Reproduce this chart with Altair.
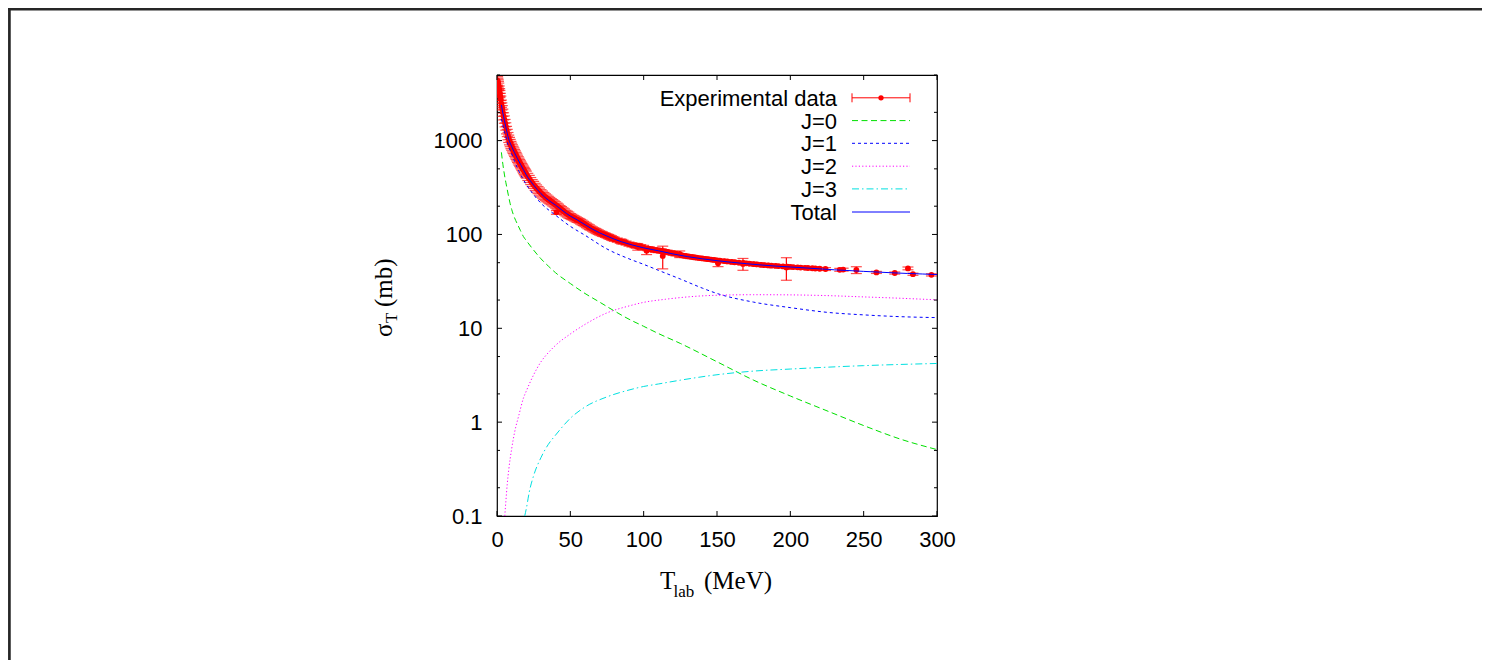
import altair as alt
import pandas as pd

# ---------------- data ----------------
# experimental points, low-energy part
exp_T_low = [0.4, 0.6, 0.8, 1.0, 1.2, 1.5, 1.8, 2.0, 2.3, 2.6,
             3.0, 3.3, 3.6, 4.0, 4.5, 5.0, 5.5, 6.0, 6.5, 7.0,
             7.5, 8.0, 8.5, 9.0, 9.5, 10.0, 10.5, 11.0, 11.5, 12.0,
             12.5, 13.0, 13.5, 14.0, 14.5, 15.0, 15.5, 16.0, 16.5, 17.0,
             17.5, 18.0, 18.5, 19.0, 19.5, 20.0, 21, 22, 23, 24,
             25, 26, 27, 28, 29, 30, 31, 32, 33, 34,
             35, 36, 37, 38, 39, 40, 40.5, 41, 42, 43,
             44, 45, 46, 47, 48, 49]
exp_sigma_low = [4350, 4200, 4050, 3900, 3750, 3500, 3280, 3150, 2930, 2740,
                 2480, 2320, 2170, 1990, 1820, 1680, 1540, 1420, 1300, 1210,
                 1120, 1050, 990, 945, 900, 865, 830, 800, 770, 742,
                 715, 690, 665, 642, 620, 598, 578, 560, 543, 525,
                 508, 492, 476, 462, 448, 435, 412, 392, 372, 354,
                 338, 323, 310, 298, 287, 276, 267, 258, 250, 243,
                 236, 230, 224, 218, 212, 207, 172, 201, 195, 189,
                 184, 179, 174, 169, 165, 161]
exp_err_low = [450, 420, 400, 380, 350, 320, 300, 280, 260, 240,
               220, 205, 190, 175, 160, 150, 140, 128, 118, 108,
               100, 95, 90, 85, 80, 76, 73, 70, 67, 64,
               62, 60, 58, 56, 54, 52, 50, 48, 46, 45,
               44, 43, 42, 41, 40, 38, 36, 34, 32, 30,
               29, 28, 27, 26, 25, 24, 23, 22, 21, 20,
               19, 18, 17, 17, 16, 16, 8, 15, 15, 14,
               14, 13, 13, 12, 12, 12]

# experimental points, middle part
exp_T_mid = [50, 51, 52, 53, 54, 55, 56, 57, 58, 59,
             60, 61, 62, 63, 64, 65, 66, 67, 68, 69,
             70, 71, 72, 73, 74, 75, 76, 77, 78, 79,
             80, 82, 84, 85, 86, 88, 90, 92, 94, 95,
             96, 98, 100, 102, 103, 104, 106, 108, 110, 112,
             113, 114, 116, 118, 120, 122, 124.6]
exp_sigma_mid = [157, 154, 151, 148, 145, 142.5, 140, 137, 134, 131,
                 128, 125, 122, 119.5, 117, 114.5, 112, 110, 108, 106,
                 104, 102.5, 101, 99.5, 98, 96.5, 95, 93.5, 92, 90.5,
                 89, 87, 85, 84, 83, 81, 79, 77.5, 76.3, 75.5,
                 74, 74, 72.5, 67, 70.5, 70, 69, 68, 67.5, 66.8,
                 59, 66, 65, 64, 63, 62, 61.7]
exp_err_mid = [10, 10, 9, 9, 9, 8, 8, 8, 8, 7,
               7, 7, 7, 7, 6, 6, 6, 6, 6, 6,
               5.5, 5.5, 5.5, 5, 5, 5, 5, 5, 5, 4.5,
               4.5, 4.5, 4.5, 4.5, 4, 4, 4, 4, 4, 4,
               6, 4, 4, 6, 3.5, 3.5, 3.5, 3.5, 3.5, 3.5,
               16, 3, 3, 3, 3, 3, 5]

# experimental points, high-energy part
exp_T_high = [126, 128, 130, 132, 134, 136, 138, 140, 142, 144,
              146, 148, 150, 150.7, 152, 155, 157, 160, 162, 165,
              167.7, 168, 170, 172, 175, 177, 180, 182, 185, 187,
              190, 192, 195, 197.3, 198, 200, 202, 205, 207, 210,
              212, 215, 217, 220, 224, 233.7, 236, 245, 258.7, 271.2,
              280.2, 283.6, 296.2]
exp_sigma_high = [60, 59.2, 58.5, 57.8, 57.2, 56.6, 56, 55.5, 55, 54.5,
                  54, 53.5, 53, 49.4, 52.6, 52, 51.6, 51, 50.6, 50,
                  48.5, 49.6, 49.2, 48.9, 48.3, 48, 47.5, 47.2, 46.8, 46.5,
                  46.2, 46, 45.6, 44.5, 45.3, 45.1, 44.9, 44.6, 44.4, 44.1,
                  43.9, 43.6, 43.4, 43.1, 42.8, 42, 42.2, 41.8, 39.4, 38.8,
                  43.5, 37.7, 37.1]
exp_err_high = [2.5, 2.5, 2.5, 2.5, 2, 2, 2, 2, 2, 2,
                2, 2, 2, 4, 2, 2, 2, 2, 2, 2,
                7, 2, 2, 2, 2, 2, 2, 2, 2, 2,
                1.5, 1.5, 1.5, 12, 1.5, 1.5, 1.5, 1.5, 1.5, 1.5,
                1.5, 1.5, 1.5, 1.5, 1.5, 1.5, 1.5, 3.5, 1, 1,
                1.5, 1, 1]

j0_T = [3, 4, 5, 6, 7, 8, 9, 10, 12, 14, 16, 18, 20, 25, 30, 35, 40, 50, 60, 70,
        80, 90, 100, 110, 125, 150, 175, 200, 225, 250, 275, 300]
j0_sigma = [750, 560, 440, 360, 300, 250, 212, 185, 150, 128, 110, 95, 86, 68, 55, 46, 39, 30, 23.5, 19,
            15.3, 12.5, 10.5, 8.8, 6.9, 4.4, 2.8, 1.9, 1.32, 0.92, 0.66, 0.51]

j1_T = [3, 4, 5, 6, 7.5, 10, 12, 15, 20, 25, 30, 40, 50, 60, 75, 90, 100, 110, 125, 140,
        150, 175, 200, 225, 250, 275, 300]
j1_sigma = [1700, 1450, 1250, 1100, 900, 720, 600, 470, 340, 265, 215, 160, 122, 98, 70, 55, 48, 41.5, 33.5, 26.8,
            23.5, 19, 16.6, 14.8, 13.9, 13.3, 13.0]

j2_T = [5.3, 6, 7, 8, 10, 12, 15, 18, 20, 25, 30, 35, 40, 50, 60, 75, 90, 100, 115, 130,
        150, 175, 200, 225, 250, 275, 300]
j2_sigma = [0.1, 0.14, 0.22, 0.31, 0.52, 0.78, 1.2, 1.8, 2.15, 3.2, 4.4, 5.5, 6.6, 8.7, 11, 14.6, 17.3, 18.9, 20.4, 21.6,
            22.5, 22.8, 22.7, 22.3, 21.6, 20.9, 20.1]

j3_T = [18.9, 20, 22, 25, 30, 35, 40, 50, 60, 75, 90, 100, 110, 125, 150, 175, 200, 225, 250, 275, 300]
j3_sigma = [0.1, 0.12, 0.18, 0.27, 0.42, 0.58, 0.73, 1.1, 1.45, 1.86, 2.2, 2.4, 2.55, 2.8, 3.2, 3.5, 3.68, 3.85, 4.0, 4.12, 4.22]

tot_T = [3, 4, 5, 6, 7, 8, 9, 10, 12, 14, 16, 18, 20, 25, 30, 35, 40, 45, 50, 55,
         60, 65, 70, 75, 80, 90, 100, 110, 120, 130, 140, 150, 160, 170, 180, 190, 200, 210, 220, 230,
         240, 250, 260, 270, 280, 290, 300]
tot_sigma = [2400, 1960, 1650, 1400, 1190, 1040, 940, 865, 740, 640, 560, 490, 430, 335, 272, 232, 205, 178, 157, 142,
             127, 114, 104, 96, 89, 79, 72, 67, 62, 58, 55, 52.5, 50.5, 48.8, 47.3, 46, 45, 44, 43, 42,
             41.2, 40.4, 39.7, 39, 38.4, 37.9, 37.4]

x_ticks = [0, 50, 100, 150, 200, 250, 300]
y_major = [0.1, 1, 10, 100, 1000]
y_minor = [0.2, 0.5, 2, 5, 20, 50, 200, 500, 2000, 5000]

legend_labels = ["Experimental data", "J=0", "J=1", "J=2", "J=3", "Total"]

# ---------------- styling ----------------
W, H = 440, 441
PAD_L, PAD_T = 489, 67
TOTAL_W, TOTAL_H = 1474, 652
RED, GREEN, BLUE, MAGENTA, CYAN = "#ff0000", "#00e000", "#0000ff", "#ff00ff", "#00e0e0"
SANS = "Liberation Sans"
SERIF = "Liberation Serif"

xs = alt.Scale(domain=[0, 300], nice=False, zero=False)
ys = alt.Scale(type="log", domain=[0.1, 5000], nice=False)

x_axis = alt.Axis(values=x_ticks, title=None, ticks=False, tickSize=0, domain=False, grid=False,
                  labelFontSize=22, labelFont=SANS, labelColor="black", labelPadding=13,
                  labelFlush=False, labelOverlap=False)
y_axis = alt.Axis(values=y_major, format="~g", title=None, ticks=False, tickSize=0, domain=False,
                  grid=False, labelFontSize=22, labelFont=SANS, labelColor="black", labelPadding=15,
                  labelOverlap=False)


def X(f):
    return alt.X(f"{f}:Q", scale=xs, axis=x_axis)


def Y(f):
    return alt.Y(f"{f}:Q", scale=ys, axis=y_axis)


one = pd.DataFrame({"k": [0]})
layers = []

# frame of the original figure (decoration)
layers.append(alt.Chart(one).mark_rule(color="#262626", strokeWidth=2.7).encode(
    x=alt.value(-487.6), y=alt.value(-PAD_T), y2=alt.value(TOTAL_H - PAD_T)))
layers.append(alt.Chart(one).mark_rule(color="#262626", strokeWidth=2.4).encode(
    y=alt.value(-65.8), x=alt.value(-PAD_L), x2=alt.value(TOTAL_W - PAD_L)))

# experimental data
exp_df = pd.DataFrame({
    "T": exp_T_low + exp_T_mid + exp_T_high,
    "s": exp_sigma_low + exp_sigma_mid + exp_sigma_high,
    "e": exp_err_low + exp_err_mid + exp_err_high,
})
exp_df["lo"] = exp_df["s"] - exp_df["e"]
exp_df["hi"] = exp_df["s"] + exp_df["e"]
layers.append(alt.Chart(exp_df).mark_rule(color=RED, strokeWidth=1.2, clip=True).encode(
    x=X("T"), y=Y("lo"), y2="hi:Q"))
layers.append(alt.Chart(exp_df).mark_tick(color=RED, orient="horizontal", size=11, thickness=1.2, clip=True).encode(
    x=X("T"), y=Y("lo")))
layers.append(alt.Chart(exp_df).mark_tick(color=RED, orient="horizontal", size=11, thickness=1.2, clip=True).encode(
    x=X("T"), y=Y("hi")))
layers.append(alt.Chart(exp_df).mark_circle(color=RED, size=34, opacity=1, clip=True).encode(
    x=X("T"), y=Y("s")))


def curve(Ts, vals, color, dash=None):
    df = pd.DataFrame({"T": Ts, "s": vals})
    kw = dict(clip=True, color=color, strokeWidth=1, interpolate="monotone")
    if dash:
        kw["strokeDash"] = dash
    return alt.Chart(df).mark_line(**kw).encode(x=X("T"), y=Y("s"))


DASH0, DASH1, DASH2, DASH3 = [6, 3.5], [3, 3], [1.2, 2.2], [7, 3, 1.5, 3]
layers.append(curve(j0_T, j0_sigma, GREEN, DASH0))
layers.append(curve(j1_T, j1_sigma, BLUE, DASH1))
layers.append(curve(j2_T, j2_sigma, MAGENTA, DASH2))
layers.append(curve(j3_T, j3_sigma, CYAN, DASH3))
layers.append(curve(tot_T, tot_sigma, BLUE))

# inward ticks on all four sides (gnuplot style)
ymaj = pd.DataFrame({"v": y_major})
ymin = pd.DataFrame({"v": y_minor})
xmaj = pd.DataFrame({"v": x_ticks})
for df, ln in ((ymaj, 5), (ymin, 3)):
    layers.append(alt.Chart(df).mark_rule(color="black", strokeWidth=1).encode(
        y=Y("v"), x=alt.value(0), x2=alt.value(ln)))
    layers.append(alt.Chart(df).mark_rule(color="black", strokeWidth=1).encode(
        y=Y("v"), x=alt.value(W - ln), x2=alt.value(W)))
layers.append(alt.Chart(xmaj).mark_rule(color="black", strokeWidth=1).encode(
    x=X("v"), y=alt.value(H), y2=alt.value(H - 5)))
layers.append(alt.Chart(xmaj).mark_rule(color="black", strokeWidth=1).encode(
    x=X("v"), y=alt.value(0), y2=alt.value(5)))

# legend (gnuplot style: text right-aligned, sample to the right)
LX_TEXT, LX1, LX2 = 340, 355, 413
rows_y = [22.8, 45.6, 68.3, 91.2, 113.9, 137.0]
for lab, ry in zip(legend_labels, rows_y):
    layers.append(alt.Chart(one).mark_text(align="right", baseline="middle", fontSize=22, font=SANS,
                                           color="black").encode(
        x=alt.value(LX_TEXT), y=alt.value(ry + 1), text=alt.value(lab)))
ry = rows_y[0]
layers.append(alt.Chart(one).mark_rule(color=RED, strokeWidth=1).encode(
    x=alt.value(LX1), x2=alt.value(LX2), y=alt.value(ry)))
for cx in (LX1, LX2):
    layers.append(alt.Chart(one).mark_rule(color=RED, strokeWidth=1).encode(
        x=alt.value(cx), y=alt.value(ry - 4.5), y2=alt.value(ry + 4.5)))
layers.append(alt.Chart(one).mark_circle(color=RED, size=28, opacity=1).encode(
    x=alt.value((LX1 + LX2) / 2), y=alt.value(ry)))
for (col, dash), ry in zip([(GREEN, DASH0), (BLUE, DASH1), (MAGENTA, DASH2), (CYAN, DASH3), (BLUE, None)],
                           rows_y[1:]):
    kw = dict(color=col, strokeWidth=1)
    if dash:
        kw["strokeDash"] = dash
    layers.append(alt.Chart(one).mark_rule(**kw).encode(
        x=alt.value(LX1), x2=alt.value(LX2), y=alt.value(ry)))


# axis titles with subscripts
def txt(s, x, y, size, angle=0):
    return alt.Chart(one).mark_text(align="left", baseline="alphabetic", fontSize=size, font=SERIF,
                                    color="black", angle=angle).encode(
        x=alt.value(x), y=alt.value(y), text=alt.value(s))


layers.append(txt("T", 163, 514, 25))
layers.append(txt("lab", 176.5, 521.5, 17))
layers.append(txt("(MeV)", 207, 514, 25))
layers.append(txt("σ", -105, 262, 25, 270))
layers.append(txt("T", -100, 248, 17, 270))
layers.append(txt("(mb)", -105, 232, 25, 270))

chart = alt.layer(*layers).properties(
    width=W, height=H,
    padding={"left": PAD_L, "top": PAD_T, "right": TOTAL_W - PAD_L - W, "bottom": TOTAL_H - PAD_T - H},
    autosize=alt.AutoSizeParams(type="none"),
).configure_view(stroke="black", strokeWidth=1.2)

chart.save("out.html", embed_options={"renderer": "svg", "actions": False})
